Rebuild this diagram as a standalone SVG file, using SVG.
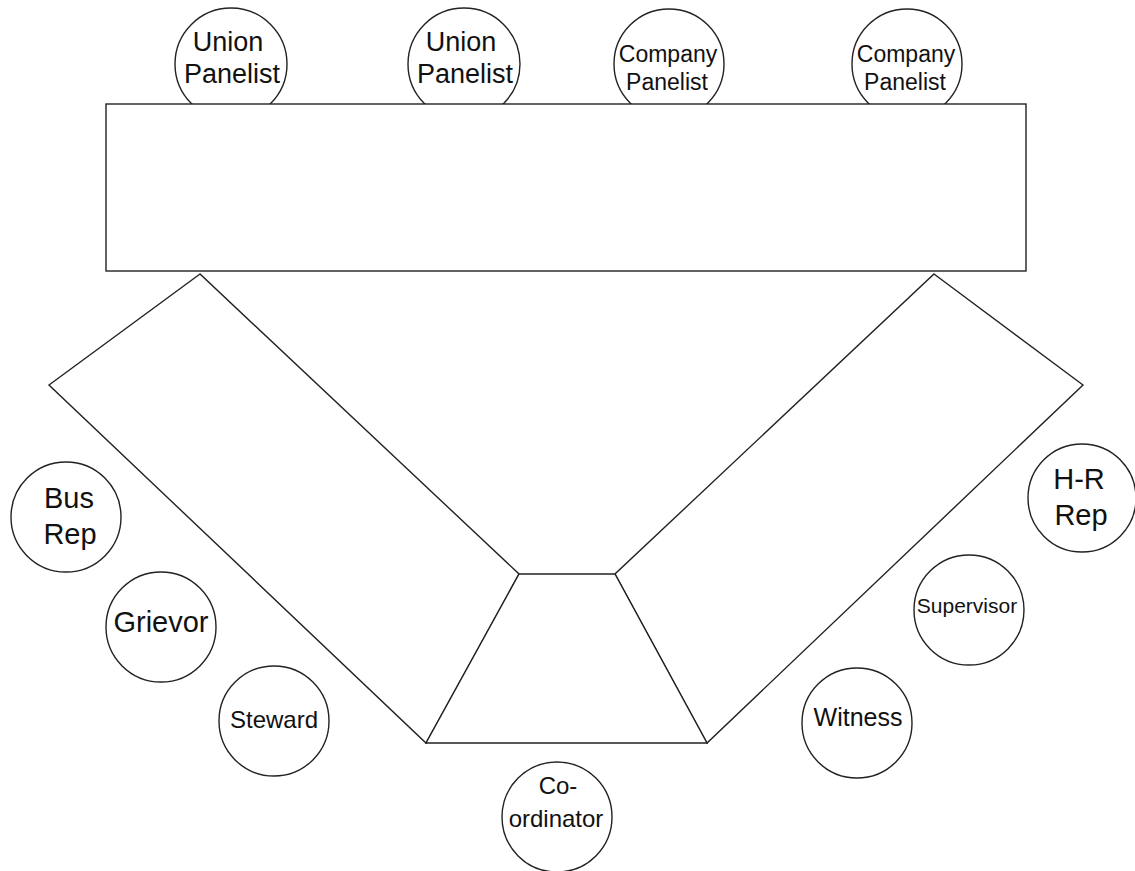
<svg xmlns="http://www.w3.org/2000/svg" width="1135" height="871" viewBox="0 0 1135 871">
<style>
.s{fill:#fff;stroke:#222;stroke-width:1.4}
text{font-family:"Liberation Sans",Arial,sans-serif;fill:#111;text-anchor:middle}
</style>
<rect width="1135" height="871" fill="#fff"/>
<g id="union-panelist-1"><circle class="s" cx="231" cy="64" r="56"/><text x="228" y="51" font-size="27">Union</text><text x="232" y="83" font-size="27">Panelist</text></g>
<g id="union-panelist-2"><circle class="s" cx="464" cy="64" r="56"/><text x="461" y="51" font-size="27">Union</text><text x="465" y="83" font-size="27">Panelist</text></g>
<g id="company-panelist-1"><circle class="s" cx="669" cy="64" r="55"/><text x="668" y="62" font-size="23">Company</text><text x="667" y="90" font-size="23">Panelist</text></g>
<g id="company-panelist-2"><circle class="s" cx="907" cy="64" r="55"/><text x="906" y="62" font-size="23">Company</text><text x="905" y="90" font-size="23">Panelist</text></g>
<g id="panel-table"><rect class="s" x="106" y="104" width="920" height="167"/></g>
<g id="left-table"><polygon class="s" points="200,274 49,385 426,743 519,574"/></g>
<g id="right-table"><polygon class="s" points="934,274 1083,385 707,743 615,574"/></g>
<g id="centre-table"><polygon class="s" points="519,574 615,574 707,743 426,743"/></g>
<g id="bus-rep"><circle class="s" cx="66" cy="517" r="55"/><text x="69" y="508" font-size="29">Bus</text><text x="70" y="544" font-size="29">Rep</text></g>
<g id="grievor"><circle class="s" cx="161" cy="627" r="55"/><text x="161" y="632" font-size="29">Grievor</text></g>
<g id="steward"><circle class="s" cx="274" cy="721" r="55"/><text x="274" y="728" font-size="24">Steward</text></g>
<g id="hr-rep"><circle class="s" cx="1082" cy="498" r="54"/><text x="1079" y="489" font-size="29">H-R</text><text x="1081" y="525" font-size="29">Rep</text></g>
<g id="supervisor"><circle class="s" cx="969" cy="610" r="55"/><text x="967" y="613" font-size="21">Supervisor</text></g>
<g id="witness"><circle class="s" cx="857" cy="723" r="55"/><text x="858" y="726" font-size="25">Witness</text></g>
<g id="co-ordinator"><circle class="s" cx="557" cy="817" r="55"/><text x="558" y="794" font-size="24">Co-</text><text x="556" y="827" font-size="24">ordinator</text></g>
<g id="connectors"/>
</svg>
